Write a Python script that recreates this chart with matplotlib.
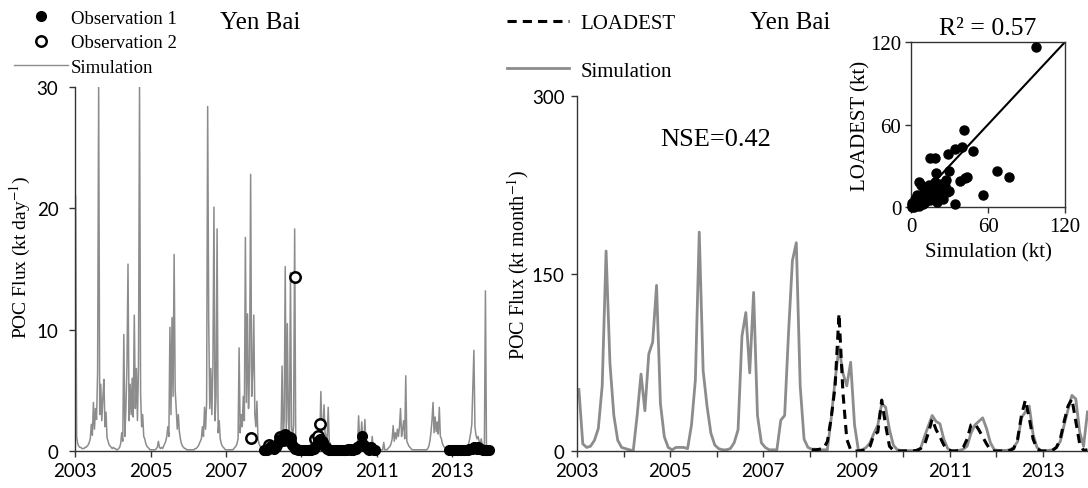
import matplotlib.pyplot as plt
import numpy as np
from matplotlib.lines import Line2D

plt.rcParams['font.family'] = ['Liberation Serif', 'DejaVu Serif']
plt.rcParams['mathtext.fontset'] = 'stix'

GRAY = '#8c8c8c'
AXC = '#333333'

sim_day_2003 = [21.0, 1.2, 0.6, 0.4, 0.3, 0.3, 0.2, 0.2, 0.2, 0.3, 0.3, 0.4,
                0.5, 0.7, 1.0, 2.2, 1.3, 4.0, 1.8, 3.5, 2.6, 6.5, 30.0, 3.0,
                5.5, 2.5, 4.4, 5.9, 2.0, 3.2, 1.1, 0.8, 0.5, 0.4, 0.3, 0.2]
sim_day_2004 = [0.3, 0.2, 0.2, 0.1, 0.1, 0.2, 0.3, 0.6, 1.5, 0.8, 9.6, 1.2,
                3.5, 7.0, 15.4, 2.5, 5.5, 3.0, 6.0, 2.8, 11.2, 3.5, 6.8, 2.5,
                7.0, 30.0, 4.8, 2.0, 3.0, 1.2, 1.0, 0.6, 0.4, 0.3, 0.2, 0.1]
sim_day_2005 = [0.1, 0.1, 0.1, 0.1, 0.1, 0.2, 0.3, 0.8, 0.3, 0.2, 0.3, 0.2,
                0.4, 0.6, 0.8, 1.2, 2.0, 1.2, 10.2, 3.0, 11.0, 4.5, 16.2, 5.0,
                3.5, 1.8, 3.0, 1.6, 1.0, 0.6, 0.4, 0.3, 0.2, 0.2, 0.1, 0.1]
sim_day_2006 = [0.1, 0.1, 0.1, 0.1, 0.1, 0.1, 0.2, 0.2, 0.3, 0.4, 0.6, 0.8,
                1.0, 2.0, 1.2, 3.6, 1.8, 4.0, 28.4, 10.6, 3.5, 6.8, 3.0, 7.0,
                20.1, 2.5, 4.5, 18.3, 1.5, 2.5, 1.0, 0.6, 0.4, 0.3, 0.2, 0.1]
sim_day_2007 = [0.1, 0.1, 0.1, 0.1, 0.1, 0.1, 0.1, 0.2, 0.3, 0.4, 0.6, 1.0,
                8.5, 1.5, 3.0, 2.0, 4.5, 2.5, 17.6, 4.0, 11.3, 3.5, 7.0, 22.8,
                4.5, 6.5, 11.2, 3.0, 2.0, 4.1, 1.0, 0.6, 0.4, 0.3, 0.2, 0.1]
sim_day_2008 = [0.1, 0.1, 0.1, 0.1, 0.1, 0.1, 0.1, 0.1, 0.1, 0.2, 0.2, 0.3,
                0.3, 0.4, 0.5, 0.8, 1.2, 7.0, 1.0, 2.5, 15.2, 1.5, 10.5, 2.5,
                1.2, 14.7, 2.0, 1.0, 2.2, 18.3, 0.8, 0.5, 0.3, 0.2, 0.2, 0.1]
sim_day_2009 = [0.1, 0.1, 0.1, 0.1, 0.1, 0.1, 0.1, 0.1, 0.1, 0.1, 0.1, 0.2,
                0.2, 0.3, 0.4, 0.5, 0.8, 1.0, 4.9, 1.5, 1.8, 3.8, 1.5, 1.2,
                1.0, 3.6, 0.8, 0.6, 0.4, 0.3, 0.2, 0.2, 0.1, 0.1, 0.1, 0.1]
sim_day_2010 = [0.1, 0.1, 0.1, 0.1, 0.1, 0.1, 0.1, 0.1, 0.1, 0.1, 0.1, 0.1,
                0.1, 0.1, 0.2, 0.2, 0.3, 0.5, 2.9, 0.8, 1.0, 2.4, 0.8, 0.7,
                2.6, 0.6, 0.5, 0.4, 0.4, 0.3, 0.3, 1.2, 0.2, 0.1, 0.1, 0.1]
sim_day_2011 = [0.1, 0.1, 0.1, 0.1, 0.1, 0.1, 0.7, 0.1, 0.1, 0.1, 0.2, 0.3,
                0.4, 0.6, 1.0, 2.1, 0.8, 1.5, 1.0, 1.8, 1.2, 2.0, 3.5, 1.2,
                1.8, 2.5, 1.0, 6.2, 0.8, 0.6, 0.4, 0.3, 0.2, 0.1, 0.1, 0.1]
sim_day_2012 = [0.1, 0.1, 0.1, 0.1, 0.1, 0.1, 0.1, 0.1, 0.1, 0.1, 0.1, 0.1,
                0.2, 0.4, 0.8, 1.5, 2.5, 4.0, 1.5, 2.8, 1.6, 2.4, 1.4, 3.6,
                1.2, 1.0, 0.6, 0.4, 0.3, 0.2, 0.2, 0.1, 0.1, 0.1, 0.1, 0.1]
sim_day_2013 = [0.1, 0.1, 0.1, 0.1, 0.1, 0.1, 0.1, 0.1, 0.1, 0.1, 0.1, 0.1,
                0.1, 0.2, 0.4, 0.6, 1.0, 1.5, 2.2, 5.4, 8.3, 2.0, 1.3, 1.0,
                1.2, 0.8, 0.6, 1.0, 0.5, 0.4, 0.3, 13.2, 0.3, 0.2, 0.1, 0.1]

# observation 1 (filled), sampled every ~2 weeks
obs1a_start = 2008.0
obs1a_vals = [0.05, 0.1, 0.1, 0.15, 0.3, 0.4, 0.3, 0.2, 0.3, 0.5,
              0.8, 1.0, 1.1, 0.9, 1.2, 1.0, 0.8, 1.1, 0.7, 0.5, 0.3, 0.2, 0.2,
              0.1, 0.1, 0.05, 0.1, 0.1, 0.05, 0.1, 0.1, 0.1, 0.2, 0.2,
              0.3, 0.5, 0.8, 1.0, 0.9, 0.6, 0.4,
              0.3, 0.2, 0.1, 0.1, 0.05, 0.05, 0.1, 0.1, 0.05, 0.1, 0.1, 0.05, 0.1, 0.1, 0.1, 0.15,
              0.2, 0.1, 0.1, 0.2,
              0.2, 0.3, 0.4, 0.5, 1.2, 0.6, 0.4, 0.3, 0.2, 0.1, 0.3, 0.2, 0.1, 0.05]
obs1b_start = 2012.92
obs1b_vals = [0.05, 0.05, 0.05, 0.05, 0.05, 0.05, 0.05, 0.05, 0.1, 0.1, 0.1, 0.1, 0.1, 0.15,
              0.2, 0.2, 0.3, 0.25, 0.2, 0.3, 0.2, 0.15, 0.1, 0.1, 0.1, 0.05, 0.05]

# observation 2 (open)
obs2_dates = [2007.66, 2008.15, 2008.22, 2008.44, 2008.50, 2008.57, 2008.63, 2008.70,
              2008.83, 2009.37, 2009.43, 2009.50, 2009.55]
obs2_vals = [1.05, 0.5, 0.3, 1.15, 0.9, 1.3, 1.0, 1.1, 14.3, 1.0, 1.25, 2.2, 0.7]

# monthly simulation 2003-2013
sim_mon = [52, 6, 3, 4, 9, 19, 55, 169, 74, 30, 9, 3,
           2, 1, 0.3, 30, 65, 34, 82, 92, 140, 40, 12, 3,
           1, 3, 3, 3, 2, 22, 60, 185, 68, 38, 15, 5,
           2, 1, 1, 2, 7, 18, 97, 117, 66, 134, 30, 7,
           3, 1, 1, 1, 26, 30, 100, 161, 176, 55, 10, 3,
           1.5, 1.5, 1, 1, 1, 28, 60, 88, 66, 55, 75, 22,
           0.5, 1, 3, 7, 15, 22, 40, 37, 18, 5, 1, 0.5,
           0.5, 0.3, 0.3, 0.5, 2, 12, 21, 30, 25, 23, 10, 2,
           0.3, 0.3, 0.5, 1.5, 4, 15, 22, 25, 28, 19, 7, 1,
           0.5, 0.5, 0.5, 1, 3, 8, 28, 33, 38, 14, 3, 0.5,
           0.3, 0.5, 1, 3, 8, 22, 35, 47, 44, 16, 4, 33]
# monthly LOADEST 2008-2013
loadest_mon = [1, 1, 1.5, 2, 8, 28, 55, 116, 50, 10, 1, 0,
               0, 0.5, 1, 4, 14, 16, 43, 22, 4, 0.5, 0, 0,
               0, 0, 0, 0.5, 2, 5, 15, 27, 18, 12, 5, 1,
               0, 0, 0.5, 3, 10, 22, 23, 18, 12, 6, 1, 0,
               0, 0, 0, 0.5, 2, 10, 30, 43, 28, 10, 2, 0,
               0, 0, 0.5, 3, 10, 25, 38, 44, 25, 6, 0.5, 1]

# scatter: simulation vs LOADEST (kt)
sc_sim = [97, 41.5, 48.5, 40, 34, 29, 15, 18.5, 30, 19.5, 67, 76, 38, 42, 44, 56, 34, 6, 8, 13.5,
          21, 26.5, 28, 22.5, 16, 11, 4.5, 2, 0.5, 3, 7, 15, 20, 25, 30, 24, 17, 10, 12, 5,
          3, 1, 9, 6, 19, 23, 27, 14, 1.5, 0.8, 2.5, 4, 17, 21]
sc_load = [116, 56, 41, 43.5, 42.5, 38.5, 35.5, 36, 26, 24.5, 26, 21.5, 19, 21, 22, 9, 2, 18, 16, 14.5,
           13.5, 15.5, 11, 7, 6, 3.5, 5, 1.2, 0.3, 2.5, 8.5, 5, 4, 6, 12, 11.5, 12, 10, 7, 9,
           6, 3, 2, 1, 18, 17, 20, 16, 0.5, 1.5, 0.2, 3.5, 9, 8]

sim_day = (sim_day_2003 + sim_day_2004 + sim_day_2005 + sim_day_2006 + sim_day_2007 + sim_day_2008
           + sim_day_2009 + sim_day_2010 + sim_day_2011 + sim_day_2012 + sim_day_2013)
t_day = 2003 + (np.arange(len(sim_day)) + 0.5) / 36
t_obs1a = obs1a_start + 0.04 * np.arange(len(obs1a_vals))
t_obs1b = obs1b_start + 0.04 * np.arange(len(obs1b_vals))
t_mon = 2003 + (np.arange(len(sim_mon)) + 0.5) / 12
t_load = t_mon[len(sim_mon) - len(loadest_mon):]

fig = plt.figure(figsize=(10.88, 4.89), dpi=100)

def style(ax):
    for s in ['top', 'right']:
        ax.spines[s].set_visible(False)
    for s in ['left', 'bottom']:
        ax.spines[s].set_color(AXC)
        ax.spines[s].set_linewidth(1)
    ax.tick_params(which='both', direction='out', color=AXC, length=4, width=1)
    for lab in ax.get_xticklabels() + ax.get_yticklabels():
        lab.set_family('Lato')
        lab.set_fontsize(13.5)

# ---- left panel: daily
ax1 = fig.add_axes([0.069, 0.0757, 0.3815, 0.7443])
ax1.plot(t_day, sim_day, color=GRAY, lw=1.1, zorder=2)
ax1.plot(obs2_dates, obs2_vals, 'o', ms=7.5, mfc='white', mec='black', mew=1.8, zorder=3)
ax1.plot(t_obs1a, obs1a_vals, 'o', ms=7, color='black', zorder=4, clip_on=False)
ax1.plot(t_obs1b, obs1b_vals, 'o', ms=7, color='black', zorder=4, clip_on=False)
ax1.set_xlim(2003, 2014)
ax1.set_ylim(0, 30)
ax1.set_xticks([2003, 2005, 2007, 2009, 2011, 2013])
ax1.set_yticks([0, 10, 20, 30])
style(ax1)
ax1.tick_params(axis='y', pad=8)
ax1.tick_params(axis='x', pad=4)
ax1.set_ylabel('POC Flux (kt day$^{-1}$)', fontsize=14)
ax1.yaxis.set_label_coords(-0.101, 0.535)
fig.text(0.239, 0.952, 'Yen Bai', fontsize=18, ha='center', va='center')

h_obs1 = Line2D([], [], ls='none', marker='o', ms=7, color='black')
h_obs2 = Line2D([], [], ls='none', marker='o', ms=7.5, mfc='white', mec='black', mew=1.8)
h_sim1 = Line2D([], [], color=GRAY, lw=1)
fig.legend([h_obs1, h_obs2, h_sim1], ['Observation 1', 'Observation 2', 'Simulation'],
           loc='upper left', bbox_to_anchor=(0.009, 0.986), frameon=False, fontsize=13.5,
           handlelength=2.9, handletextpad=0.15, labelspacing=0.4, borderpad=0.2, borderaxespad=0)

# ---- right panel: monthly
ax2 = fig.add_axes([0.5303, 0.0757, 0.4697, 0.7259])
ax2.plot(t_mon, sim_mon, color=GRAY, lw=2, zorder=2)
ax2.plot(t_load, loadest_mon, color='black', lw=2.2, ls=(0, (3, 2)), zorder=3)
ax2.set_xlim(2003, 2013.97)
ax2.set_ylim(0, 300)
ax2.set_xticks([2003, 2005, 2007, 2009, 2011, 2013])
ax2.set_xticks([2004, 2006, 2008, 2010, 2012], minor=True)
ax2.set_yticks([0, 150, 300])
style(ax2)
ax2.tick_params(axis='y', pad=5)
ax2.tick_params(axis='x', pad=4)
ax2.set_ylabel('POC Flux (kt month$^{-1}$)', fontsize=14.5)
ax2.yaxis.set_label_coords(-0.09, 0.527)
ax2.text(0.272, 0.88, 'NSE=0.42', transform=ax2.transAxes, fontsize=19, ha='center', va='center')
fig.text(0.726, 0.952, 'Yen Bai', fontsize=18, ha='center', va='center')

h_load = Line2D([], [], color='black', lw=2.2, ls=(0, (3, 2)))
h_sim2 = Line2D([], [], color=GRAY, lw=2)
fig.legend([h_load, h_sim2], ['LOADEST', 'Simulation'],
           loc='upper left', bbox_to_anchor=(0.462, 0.979), frameon=False, fontsize=15,
           handlelength=3.0, handletextpad=0.55, labelspacing=1.35, borderpad=0.2, borderaxespad=0)

# ---- inset scatter
ax3 = fig.add_axes([0.8373, 0.5746, 0.1416, 0.3375])
ax3.plot(sc_sim, sc_load, 'o', ms=6.5, color='black', ls='none', zorder=3, clip_on=False)
ax3.plot([0, 120], [0, 120], color='black', lw=1.5, zorder=2)
ax3.set_xlim(0, 120)
ax3.set_ylim(0, 120)
ax3.set_xticks([0, 60, 120])
ax3.set_yticks([0, 60, 120])
for s in ax3.spines.values():
    s.set_color(AXC)
    s.set_linewidth(1)
ax3.tick_params(direction='out', color=AXC, length=4, width=1, labelsize=15, pad=3)
ax3.set_xlabel('Simulation (kt)', fontsize=15, labelpad=5)
ax3.set_ylabel('LOADEST (kt)', fontsize=15, labelpad=0)
ax3.set_title('R² = 0.57', fontsize=18.5, pad=6)

fig.savefig('out.png', dpi=100)
